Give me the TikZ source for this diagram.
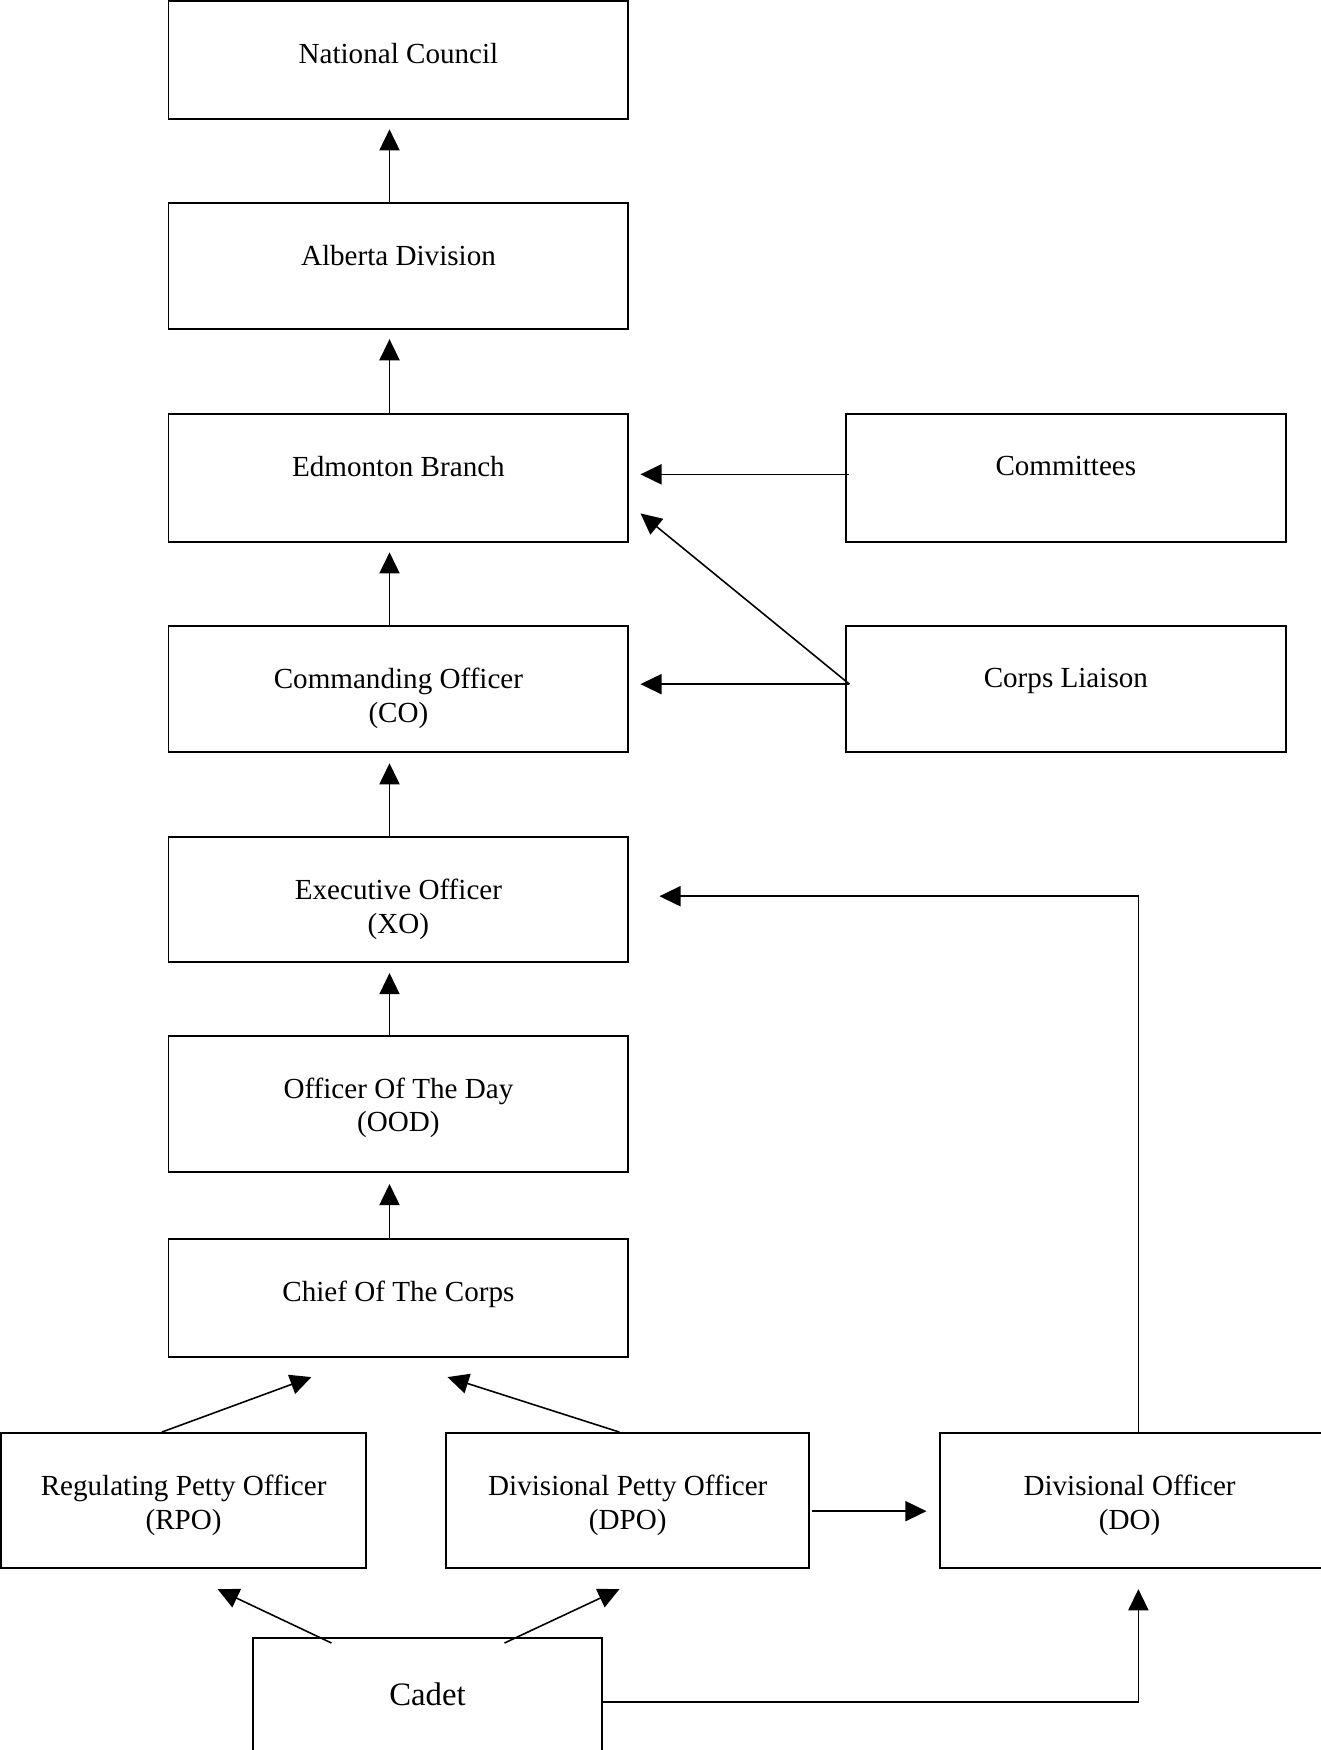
\documentclass[tikz,border=0pt]{standalone}
\usepackage{fontspec}
\setmainfont{Liberation Serif}
\usetikzlibrary{arrows.meta,calc,positioning}
\newcommand{\pxu}{0.46pt}

\begin{document}
\begin{tikzpicture}[
    x=0.46pt, y=-0.46pt,
    every node/.style={font=\fontsize{12}{13.8}\selectfont},
    box/.style={draw, line width=0.8pt, inner sep=0pt,
        minimum width=412*\pxu},
    txt/.style={anchor=north, yshift=-17.5pt, inner sep=0pt,
        align=center},
    arr/.style={line width=0.65pt,
        -{Triangle[length=8.7pt,width=8.3pt]}}
]
\useasboundingbox (0,0) rectangle (1183,1568);

% chain of command
\node[box, minimum height=106*\pxu,
    label={[txt]north:National Council}] (national) at (357,54) {};
\node[box, minimum height=113*\pxu,
    label={[txt]north:Alberta Division}] (alberta) at (357,238.5) {};
\node[box, minimum height=115*\pxu,
    label={[txt]north:Edmonton Branch}] (edmonton) at (357,428.5) {};
\node[box, minimum height=113*\pxu,
    label={[txt]north:{Commanding Officer\\(CO)}}] (co) at (357,617.5) {};
\node[box, minimum height=112*\pxu,
    label={[txt]north:{Executive Officer\\(XO)}}] (xo) at (357,806) {};
\node[box, minimum height=122*\pxu,
    label={[txt]north:{Officer Of The Day\\(OOD)}}] (ood) at (357,989) {};
\node[box, minimum height=106*\pxu,
    label={[txt]north:Chief Of The Corps}] (chief) at (357,1163) {};

% side boxes
\node[box, minimum width=394*\pxu, minimum height=115*\pxu,
    label={[txt]north:Committees}] (committees) at (955,428.5) {};
\node[box, minimum width=394*\pxu, minimum height=113*\pxu,
    label={[txt]north:Corps Liaison}] (liaison) at (955,617.5) {};

% petty officers
\node[box, minimum width=327*\pxu, minimum height=121*\pxu,
    label={[txt]north:{Regulating Petty Officer\\(RPO)}}] (rpo) at (164.5,1344.5) {};
\node[box, minimum width=325*\pxu, minimum height=121*\pxu,
    label={[txt]north:{Divisional Petty Officer\\(DPO)}}] (dpo) at (562.5,1344.5) {};
\node[box, minimum width=348*\pxu, minimum height=121*\pxu,
    label={[txt, xshift=-1.8pt]north:{Divisional Officer\\(DO)}}] (do) at (1016,1344.5) {};
\node[box, minimum width=312*\pxu, minimum height=104*\pxu,
    label={[txt, yshift=-0.8pt, font=\fontsize{13.5}{16}\selectfont]north:Cadet}] (cadet) at (383,1520) {};

% arrows up the chain
\draw[arr] ($(alberta.north)+(-8,0)$) -- ($(national.south)+(-8,8)$);
\draw[arr] ($(edmonton.north)+(-8,0)$) -- ($(alberta.south)+(-8,8)$);
\draw[arr] ($(co.north)+(-8,0)$) -- ($(edmonton.south)+(-8,8)$);
\draw[arr] ($(xo.north)+(-8,0)$) -- ($(co.south)+(-8,9)$);
\draw[arr] ($(ood.north)+(-8,0)$) -- ($(xo.south)+(-8,9)$);
\draw[arr] ($(chief.north)+(-8,0)$) -- ($(ood.south)+(-8,10)$);

% side arrows
\draw[arr] ($(committees.west)+(4,-3.5)$) -- ($(edmonton.east)+(10,-3.5)$);
\draw[arr] ($(liaison.west)+(4,-4.5)$) -- ($(edmonton.east)+(10,31.5)$);
\draw[arr] ($(liaison.west)+(4,-4.5)$) -- ($(co.east)+(10,-4.5)$);
\draw[arr] ($(do.north)+(4,0)$) |- ($(xo.east)+(27,-3)$);

% lower arrows
\draw[arr] ($(rpo.north)+(-19.5,0)$) -- ($(chief.south)+(-78,17)$);
\draw[arr] ($(dpo.north)+(-7.5,0)$) -- ($(chief.south)+(44,17)$);
\draw[arr] ($(dpo.east)+(2,9.5)$) -- ($(do.west)+(-11,9.5)$);
\draw[arr] ($(cadet.north)+(-86,5)$) -- ($(rpo.south)+(30.5,18)$);
\draw[arr] ($(cadet.north)+(69,5)$) -- ($(dpo.south)+(-7.5,18)$);
\draw[arr] ($(cadet.east)+(0,5)$) -| ($(do.south)+(4,18)$);
\end{tikzpicture}
\end{document}
